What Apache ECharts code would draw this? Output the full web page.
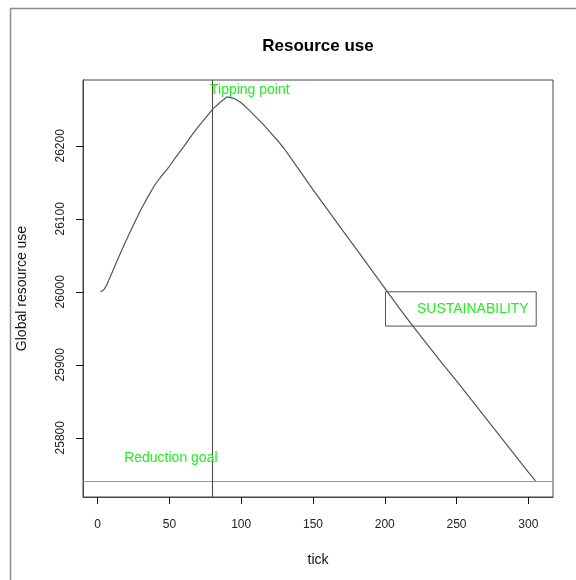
<!DOCTYPE html>
<html>
<head>
<meta charset="utf-8">
<script src="https://cdn.jsdelivr.net/npm/echarts@6/dist/echarts.min.js"></script>
<style>
  html, body { margin: 0; padding: 0; background: #fff; }
  #chart { width: 576px; height: 580px; }
</style>
</head>
<body>
<div id="chart"></div>
<script>
// Global resource use per simulation tick
const ticks = [2, 4, 6, 10, 15, 20, 25, 30, 35, 40, 45, 50, 55, 60, 65, 70, 75, 80, 85, 90, 91,
  95, 100, 105, 110, 115, 120, 125, 130, 135, 140, 150, 160, 170, 180, 190, 200, 210, 220,
  230, 240, 250, 260, 270, 280, 290, 300, 305];
const resourceUse = [26000, 26002, 26008, 26026, 26049, 26071, 26092, 26112, 26130, 26147, 26160,
  26172, 26186, 26199, 26213, 26226, 26238, 26250, 26259, 26267, 26269,
  26265, 26259, 26250, 26240, 26230, 26219, 26208, 26196, 26182, 26168, 26140, 26113, 26086,
  26059, 26032, 26005, 25978, 25952, 25927, 25902, 25878, 25853, 25828, 25803, 25778, 25753, 25741];

// Reference marks
const tippingTick = 80;
const reductionGoal = 25740;

// Axis tick labels
const xTickValues = [0, 50, 100, 150, 200, 250, 300];
const yTickValues = [25800, 25900, 26000, 26100, 26200];

// Axis limits: data range padded by 4% on each side
const xMin = -10.2, xMax = 317.2;
const yMin = 25718.8, yMax = 26290.2;

const FONT = "'Liberation Sans', Arial, Helvetica, sans-serif";
const GREEN_TEXT = '#22ee22';
const TICK_LEN = 7;

const chart = echarts.init(document.getElementById('chart'), null, { renderer: 'canvas' });

const points = ticks.map((t, i) => [t, resourceUse[i]]);
const plain = v => String(v);

chart.setOption({
  animation: false,
  backgroundColor: '#ffffff',
  textStyle: { fontFamily: FONT },
  title: {
    text: 'Resource use',
    left: 318,
    top: 38,
    textAlign: 'center',
    padding: 0,
    textStyle: { fontFamily: FONT, fontSize: 17, fontWeight: 'bold', color: '#000' }
  },
  graphic: [
    {
      type: 'rect',
      silent: true,
      z: -1,
      shape: { x: 10.5, y: 8.5, width: 700, height: 700 },
      style: { fill: null, stroke: '#8c8c8c', lineWidth: 1.5 }
    }
  ],
  grid: {
    left: 83, right: 23, top: 80, bottom: 83,
    show: true,
    borderColor: '#444',
    borderWidth: 1
  },
  xAxis: {
    type: 'value',
    min: xMin,
    max: xMax,
    name: 'tick',
    nameLocation: 'middle',
    nameGap: 56,
    nameTextStyle: { fontFamily: FONT, fontSize: 14, color: '#111' },
    axisLine: { show: true, onZero: false, lineStyle: { color: '#444', width: 1 } },
    splitLine: { show: false },
    axisTick: { show: true, length: TICK_LEN, customValues: xTickValues, lineStyle: { color: '#111', width: 1 } },
    axisLabel: { customValues: xTickValues, formatter: plain, margin: 22, fontFamily: FONT, fontSize: 12, color: '#222' }
  },
  yAxis: {
    type: 'value',
    min: yMin,
    max: yMax,
    name: 'Global resource use',
    nameLocation: 'middle',
    nameRotate: 90,
    nameGap: 54,
    nameTextStyle: { fontFamily: FONT, fontSize: 14, color: '#111' },
    axisLine: { show: true, onZero: false, lineStyle: { color: '#444', width: 1 } },
    splitLine: { show: false },
    axisTick: { show: false },
    axisLabel: { customValues: yTickValues, formatter: plain, rotate: 90, margin: 16, fontFamily: FONT, fontSize: 12, color: '#222' }
  },
  series: [
    {
      // outward tick marks on the value axis, placed through the axis scale
      name: 'y-ticks',
      type: 'custom',
      silent: true,
      clip: false,
      z: 6,
      data: yTickValues.map(v => [xMin, v]),
      renderItem: (params, api) => {
        const p = api.coord([api.value(0), api.value(1)]);
        const y = Math.round(p[1]) + 0.5;
        const x = Math.round(p[0]);
        return {
          type: 'line',
          shape: { x1: x - TICK_LEN, y1: y, x2: x, y2: y },
          style: { stroke: '#111', lineWidth: 1 }
        };
      }
    },
    {
      name: 'Reduction goal',
      type: 'line',
      data: [[xMin, reductionGoal], [xMax, reductionGoal]],
      showSymbol: false,
      symbol: 'none',
      silent: true,
      color: '#00ff00',
      lineStyle: { color: '#00ff00', width: 1 },
      z: 1
    },
    {
      name: 'Tipping point',
      type: 'line',
      data: [[tippingTick, yMin], [tippingTick, yMax]],
      showSymbol: false,
      symbol: 'none',
      silent: true,
      color: '#444',
      lineStyle: { color: '#444', width: 1 },
      z: 1
    },
    {
      name: 'Global resource use',
      type: 'line',
      data: points,
      showSymbol: false,
      symbol: 'none',
      color: '#555',
      lineStyle: { color: '#555', width: 1.2 },
      z: 2,
      markPoint: {
        silent: true,
        symbol: 'circle',
        symbolSize: 0,
        data: [
          {
            coord: [106, 26276],
            label: { show: true, position: 'inside', formatter: 'Tipping point', color: GREEN_TEXT, fontSize: 14, fontFamily: FONT }
          },
          {
            coord: [51, 25772],
            label: { show: true, position: 'inside', formatter: 'Reduction goal', color: GREEN_TEXT, fontSize: 14, fontFamily: FONT }
          }
        ]
      }
    },
    {
      name: 'legend-box',
      type: 'line',
      data: [],
      z: 5,
      markArea: {
        silent: true,
        itemStyle: { color: '#ffffff', borderColor: '#555', borderWidth: 1 },
        label: {
          show: true,
          position: 'insideRight',
          distance: 8,
          color: GREEN_TEXT,
          fontSize: 14,
          fontFamily: FONT
        },
        data: [[
          { name: 'SUSTAINABILITY', coord: [200.5, 26000] },
          { coord: [305.5, 25953] }
        ]]
      }
    }
  ]
});
</script>
</body>
</html>
